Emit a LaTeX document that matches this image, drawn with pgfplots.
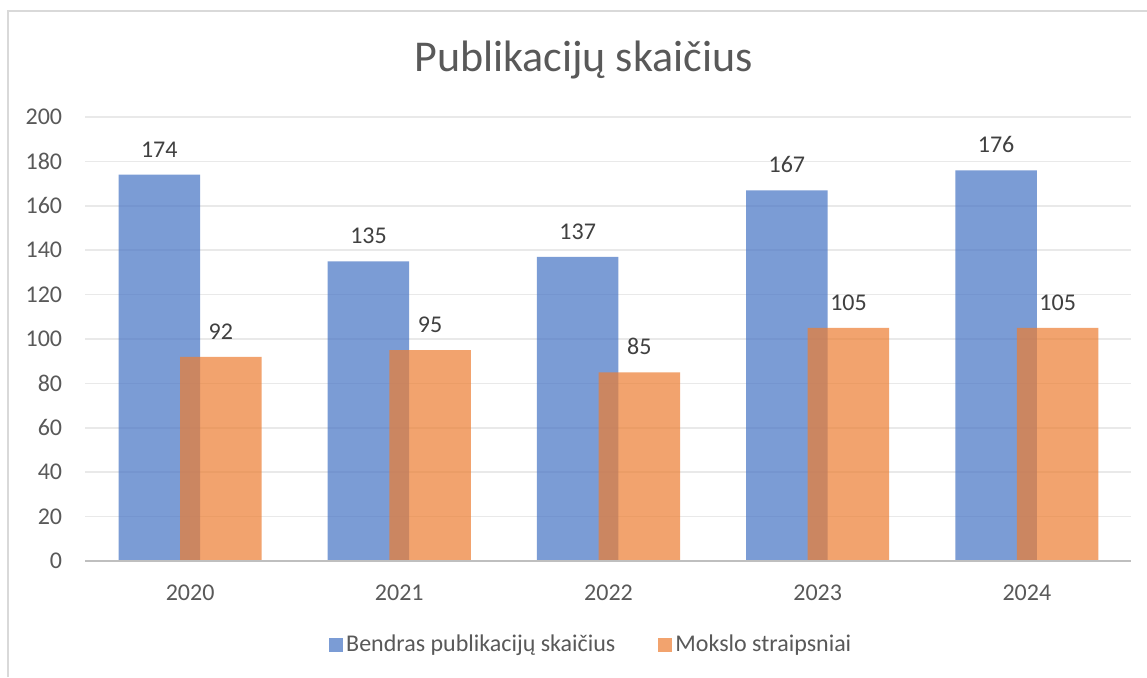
\documentclass[border=0pt]{standalone}
\usepackage{fontspec}
\setmainfont{Carlito}
\usepackage{pgfplots}
\pgfplotsset{compat=1.18}
\definecolor{cblue}{HTML}{4472C4}
\definecolor{corange}{HTML}{ED7D31}
\definecolor{ctick}{HTML}{595959}
\definecolor{clab}{HTML}{404040}
\definecolor{cgrid}{HTML}{E9E9E9}
\definecolor{caxis}{HTML}{BFBFBF}
\definecolor{cframe}{HTML}{D9D9D9}
\begin{document}
\begin{tikzpicture}
\path[use as bounding box, fill=white] (0,0) rectangle (573.5pt,338.5pt);
\draw[cframe, line width=0.8pt] (4pt,0) -- (4pt,333pt) -- (573.5pt,333pt);
\node[anchor=base, text=ctick, font=\fontsize{22}{24}\selectfont, inner sep=0pt] at (291.75pt,302.6pt) {Publikacijų skaičius};
\begin{axis}[
  at={(42.75pt,58pt)}, anchor=south west,
  scale only axis, width=523pt, height=222pt,
  xmin=-0.5, xmax=4.5, ymin=0, ymax=200,
  xtick={0,1,2,3,4}, xticklabels={2020,2021,2022,2023,2024},
  ytick={0,20,...,200},
  major tick length=0pt,
  axis line style={draw=none},
  axis x line*=bottom, axis y line*=left,
  ymajorgrids, grid style={cgrid, line width=0.75pt},
  /pgf/number format/assume math mode=true,
  ticklabel style={font=\fontsize{12}{14}\selectfont, text=ctick, inner sep=0pt},
  yticklabel style={anchor=east, xshift=-11.5pt},
  xticklabel style={anchor=north, yshift=-11.6pt},
  ybar, bar width=40.75pt,
  nodes near coords,
  every node near coord/.append style={font=\fontsize{12}{14}\selectfont, text=clab, anchor=south, inner sep=0pt, yshift=8.5pt, fill opacity=1, text opacity=1},
  legend style={at={(0.484,-0.1885)}, anchor=center, draw=none, fill=none, legend columns=2,
    font=\fontsize{12}{14}\selectfont, text=ctick,
    nodes={inner sep=1.5pt},
    /tikz/every even column/.append style={column sep=20pt}},
  legend image code/.code={\fill[#1] (0pt,-3.5pt) rectangle (7pt,3.5pt);},
  clip=false,
]
\addplot[fill=cblue, fill opacity=0.7, draw=none, bar shift=-15.4pt] coordinates {(0,174) (1,135) (2,137) (3,167) (4,176)};
\addlegendentry{Bendras publikacijų skaičius}
\addplot[fill=corange, fill opacity=0.7, draw=none, bar shift=15.4pt] coordinates {(0,92) (1,95) (2,85) (3,105) (4,105)};
\addlegendentry{Mokslo straipsniai}
\draw[caxis, line width=1.1pt] (rel axis cs:0,0) -- (rel axis cs:1,0);
\end{axis}
\end{tikzpicture}
\end{document}
